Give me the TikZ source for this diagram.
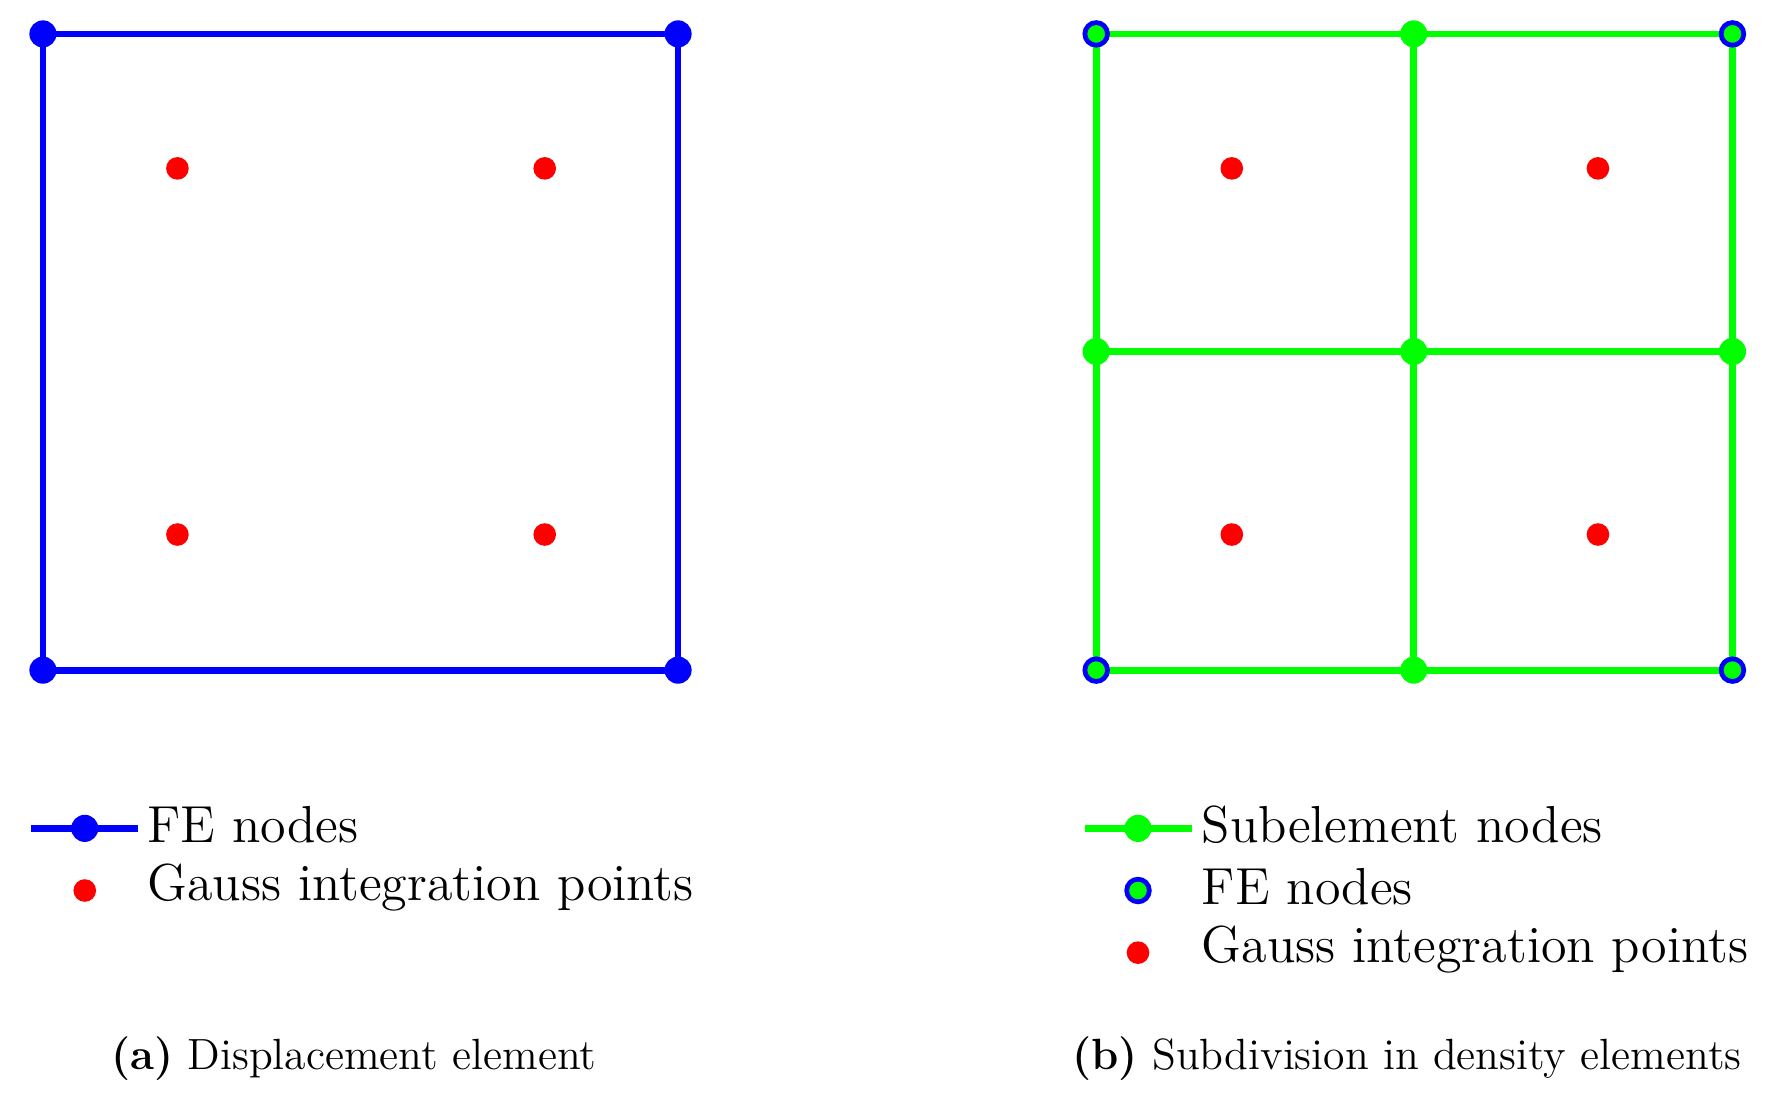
\documentclass[tikz,border=0pt]{standalone}
\begin{document}
\begin{tikzpicture}[x=0.01cm,y=-0.01cm,
  bl/.style={draw=blue,line width=1.7pt},
  gr/.style={draw=green,line width=1.7pt},
  bnode/.style={circle,fill=blue,inner sep=0,minimum size=0.24cm},
  gnode/.style={circle,fill=green,inner sep=0,minimum size=0.24cm},
  fenode/.style={circle,fill=green,draw=blue,line width=1.2pt,inner sep=0,minimum size=0.2cm},
  gauss/.style={circle,fill=red,inner sep=0,minimum size=0.2cm},
  lbl/.style={anchor=west,font=\fontsize{13.1}{16}\selectfont},
  captxt/.style={font=\fontsize{11}{13}\selectfont}]
\useasboundingbox (0,0) rectangle (1568,973);
% left
\draw[bl] (38,30) rectangle (600,593);
\foreach \p/\n in {{(38,30)}/a1,{(600,30)}/a2,{(38,593)}/a3,{(600,593)}/a4} \node[bnode] (\n) at \p {};
\foreach \p/\n in {{(157,149)}/g1,{(482,149)}/g2,{(157,473)}/g3,{(482,473)}/g4} \node[gauss] (\n) at \p {};
% right
\draw[gr] (970,30) rectangle (1533,593);
\draw[gr] (1251,30) -- (1251,593);
\draw[gr] (970,311) -- (1533,311);
\foreach \p/\n in {{(1251,30)}/s1,{(970,311)}/s2,{(1251,311)}/s3,{(1533,311)}/s4,{(1251,593)}/s5} \node[gnode] (\n) at \p {};
\foreach \p/\n in {{(970,30)}/f1,{(1533,30)}/f2,{(970,593)}/f3,{(1533,593)}/f4} \node[fenode] (\n) at \p {};
\foreach \p/\n in {{(1090,149)}/h1,{(1414,149)}/h2,{(1090,473)}/h3,{(1414,473)}/h4} \node[gauss] (\n) at \p {};
% legend left
\coordinate (la) at (27,733); \coordinate (lb) at (122,733);
\draw[bl] (la) -- (lb);
\node[bnode] (ld) at (75,733) {};
\node[lbl] (lt1) at (118,730) {FE nodes};
\node[gauss] (lg) at (75,788) {};
\node[lbl] (lt2) at (118,785) {Gauss integration points};
% legend right
\coordinate (ra) at (960,733); \coordinate (rb) at (1055,733);
\draw[gr] (ra) -- (rb);
\node[gnode] (rd) at (1007,733) {};
\node[lbl] (rt1) at (1051,730) {Subelement nodes};
\node[fenode] (rf) at (1007,788) {};
\node[lbl] (rt2) at (1051,785) {FE nodes};
\node[gauss] (rg) at (1007,843) {};
\node[lbl] (rt3) at (1051,840) {Gauss integration points};
% captions
\node[captxt] (ca) at (313,937) {\textbf{(a)} Displacement element};
\node[captxt] (cb) at (1245,937) {\textbf{(b)} Subdivision in density elements};
\end{tikzpicture}
\end{document}
